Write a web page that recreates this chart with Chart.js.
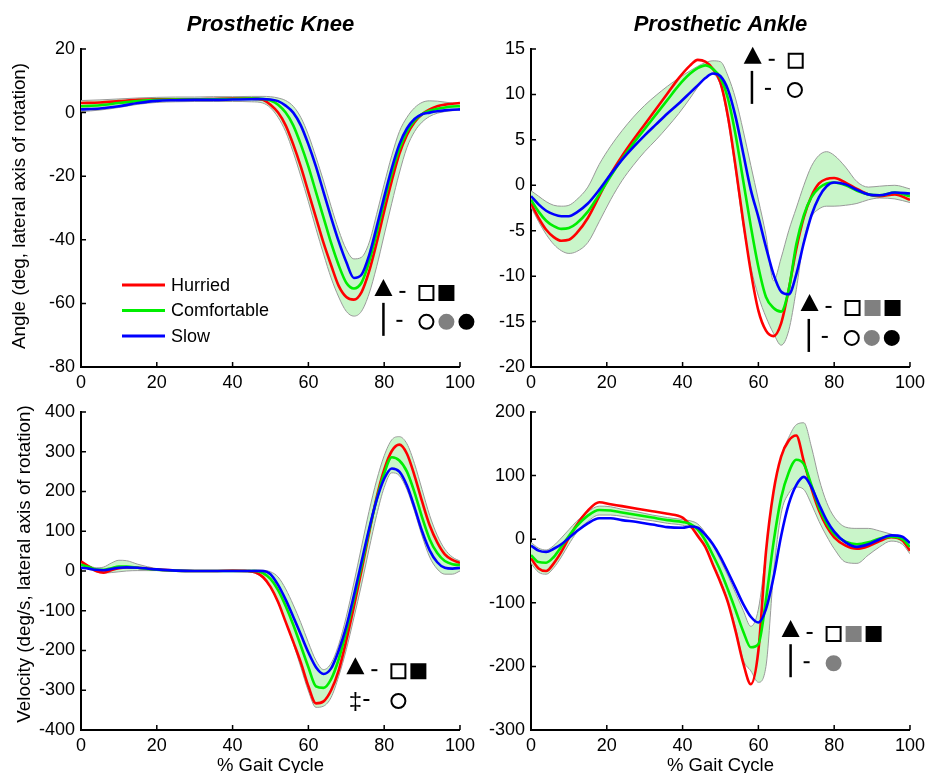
<!DOCTYPE html>
<html>
<head>
<meta charset="utf-8">
<script src="https://cdn.jsdelivr.net/npm/chart.js@4.4.1/dist/chart.umd.min.js"></script>
<style>
  html, body { margin: 0; padding: 0; background: #fff; width: 930px; height: 773px; overflow: hidden; }
  canvas { position: absolute; }
</style>
</head>
<body>
<canvas id="kneeAngle" width="480" height="400" style="left:0;top:0"></canvas>
<canvas id="ankleAngle" width="480" height="400" style="left:450px;top:0"></canvas>
<canvas id="kneeVel" width="480" height="400" style="left:0;top:380px"></canvas>
<canvas id="ankleVel" width="480" height="400" style="left:450px;top:380px"></canvas>
<script>
// ---- data ----
const kneeAngleX = [0,5,10,15,20,25,30,35,40,45,48,50,52,54,56,58,60,62,64,66,68,70,72,74,76,78,80,82,84,86,88,90,92,94,96,98,100];
const kneeAngleHurried = [3,3.2,3.6,4,4.2,4.2,4.2,4.3,4.4,4.4,4,2.5,0,-4,-10,-17,-25,-33,-41,-48,-54.5,-58,-58.8,-56.5,-50,-41,-31,-21.5,-13,-7,-3,-0.5,1,2,2.5,2.8,3];
const kneeAngleComfortable = [2,2.3,3,3.6,4,4.1,4.1,4.2,4.3,4.4,4.3,3.8,2.5,0,-4,-10,-17,-25,-33,-41,-48,-53.5,-55.3,-53.5,-47,-38,-28,-19,-11.5,-6,-2.5,-0.5,0.6,1.2,1.6,1.9,2];
const kneeAngleSlow = [1,1.3,2,3,3.7,3.9,4,4,4.1,4.2,4.3,4.1,3.6,2.2,0,-4,-10,-17,-25,-33,-40.5,-47,-52,-51,-45,-36,-26.5,-17.5,-10,-5,-2,-0.5,0,0.4,0.7,0.9,1];
const kneeAngleBandHi = [3.8,4,4.3,4.6,4.8,4.9,4.9,5,5,5.1,5.1,5,4.6,3.8,2,-1.5,-7,-14,-21.5,-29.5,-37,-43,-46,-45.5,-41,-32,-22.5,-13.5,-6,-1.5,1.5,3.2,3.7,3.6,3.3,3,2.8];
const kneeAngleBandLo = [0.3,0.8,1.6,2.6,3.2,3.4,3.5,3.5,3.5,3.4,3,1.5,-1.5,-6,-12.5,-20,-28,-36.5,-44.5,-52,-58,-62.5,-64,-62.5,-57,-48.5,-38.5,-28.5,-19,-11,-6,-3,-1.2,-0.2,0.3,0.6,0.8];

const ankleAngleX = [0,2,4,6,8,10,12,15,18,21,24,27,30,33,36,39,42,44,46,48,50,52,54,56,58,60,62,64,66,68,70,72,74,76,78,80,83,86,89,92,96,100];
const ankleAngleHurried = [-2,-3.6,-4.9,-5.7,-6.1,-6,-5.3,-3.6,-1.2,1.2,3.2,5,6.7,8.4,10.1,11.8,13.2,13.8,13.6,12.8,11.3,7.5,2,-4,-9.5,-13.8,-16,-16.6,-15.2,-11.5,-7,-3.5,-1.2,0.2,0.7,0.8,0.3,-0.4,-1,-1.2,-1,-1.6];
const ankleAngleComfortable = [-1.6,-2.9,-3.9,-4.5,-4.8,-4.7,-4.2,-2.9,-1,1,2.9,4.6,6.2,7.8,9.4,11,12.3,12.9,13.2,12.8,11.8,9.5,5.5,0.5,-4.5,-9,-12.3,-13.5,-13.9,-11.5,-6.5,-3.3,-1.3,-0.3,0.2,0.3,0,-0.6,-1,-1.1,-0.8,-1.2];
const ankleAngleSlow = [-1.2,-2.1,-2.8,-3.2,-3.4,-3.4,-3,-2,-0.5,1.2,2.8,4.2,5.5,6.7,7.9,9,10.2,11,11.8,12.3,12,10.5,7.5,3.5,-0.5,-3.5,-6.8,-9.8,-11.7,-12,-9.8,-6.3,-3.3,-1.3,-0.1,0.3,0.1,-0.5,-1,-1.1,-0.8,-0.9];
const ankleAngleBandHi = [-0.6,-1.2,-1.8,-2.2,-2.3,-2.2,-1.6,-0.2,2.3,4.3,6,7.5,8.8,9.9,10.9,11.8,12.6,13.1,13.5,13.7,13.6,12,9.5,6,2.2,-1.6,-5.5,-10.5,-8,-5,-2.5,0,2.1,3.3,3.7,3.3,2,0.4,-0.2,-0.1,0,-0.4];
const ankleAngleBandLo = [-2.4,-4,-5.4,-6.5,-7.2,-7.5,-7.3,-6.3,-4,-1.6,0.5,2.2,3.7,5,6.4,7.9,9.6,10.8,11.8,12.2,11,7,1.5,-4.5,-9,-12.2,-14.5,-16.3,-17.6,-16,-11.5,-6,-3.5,-2.6,-2.3,-2.3,-2.2,-2,-1.6,-1.4,-1.5,-1.9];

const kneeVelX = [0,2,4,6,8,10,12,15,20,25,30,35,40,44,46,48,50,52,54,56,58,60,62,64,66,68,70,72,74,76,78,80,82,84,86,88,90,92,94,96,98,100];
const kneeVelHurried = [24,12,0,-4,2,7,9,8,4,1,0,0,1,0,-3,-15,-40,-78,-128,-178,-230,-290,-333,-328,-300,-250,-175,-90,0,95,185,255,302,318,295,240,175,115,72,42,28,20];
const kneeVelComfortable = [16,10,4,3,7,11,11,8,3,1,0,0,0,0,0,-5,-20,-48,-88,-135,-188,-242,-290,-294,-272,-222,-152,-72,12,100,180,245,286,278,250,198,135,80,45,25,17,15];
const kneeVelSlow = [8,6,3,2,5,8,9,8,4,1,0,0,0,0,0,0,-8,-35,-72,-115,-160,-205,-242,-259,-245,-200,-140,-62,22,105,178,232,258,250,215,160,100,52,22,8,6,8];
const kneeVelBandHi = [20,14,8,10,20,27,26,17,6,2,1,1,1,2,3,2,-2,-15,-45,-85,-130,-180,-225,-248,-232,-185,-115,-30,60,150,228,290,330,338,320,270,205,140,90,55,35,25];
const kneeVelBandLo = [10,5,-2,-5,-4,-2,0,1,1,0,-1,-1,-1,-2,-6,-18,-42,-80,-128,-182,-242,-302,-343,-340,-318,-265,-198,-118,-35,55,140,210,247,240,205,150,88,35,5,-8,-8,0];

const ankleVelX = [0,2,4,6,8,10,12,15,18,21,24,28,32,36,40,42,44,46,48,50,52,54,56,58,60,62,64,66,68,70,72,74,76,78,80,83,86,89,92,95,98,100];
const ankleVelHurried = [-30,-46,-50,-38,-20,2,22,45,58,55,52,48,44,40,34,22,5,-12,-40,-68,-100,-145,-195,-228,-175,-20,75,130,155,163,122,80,45,20,3,-10,-15,-11,-3,3,-2,-18];
const ankleVelComfortable = [-25,-36,-37,-28,-12,5,20,37,46,45,42,38,34,30,27,24,15,-2,-25,-50,-80,-112,-145,-170,-165,-95,-5,65,105,125,118,85,50,25,8,-4,-8,-5,1,4,0,-12];
const ankleVelSlow = [-10,-18,-20,-15,-8,2,12,25,33,33,30,27,23,19,18,20,18,7,-8,-28,-52,-77,-102,-122,-131,-110,-60,5,55,85,98,82,55,30,12,-5,-12,-8,0,6,4,-6];
const ankleVelBandHi = [-5,-14,-17,-10,2,15,28,43,52,51,47,43,38,34,31,29,24,10,-10,-33,-58,-85,-112,-137,-110,-20,75,130,160,180,183,145,95,58,35,19,17,17,13,8,3,-4];
const ankleVelBandLo = [-38,-52,-55,-45,-28,-8,10,28,38,38,36,32,29,25,22,18,8,-12,-38,-65,-98,-140,-190,-207,-225,-200,-55,40,72,82,78,55,28,5,-15,-36,-38,-25,-12,-3,-8,-23];

const gaitTicks = [0, 20, 40, 60, 80, 100];

// ---- styles ----
const FONT = "'Liberation Sans', Arial, Helvetica, sans-serif";
const RED = '#ff0000', GREEN = '#00ee00', BLUE = '#0000ff';
const BAND_FILL = '#c9f5c9', BAND_EDGE = '#999999', GREY = '#808080';

Chart.defaults.font.family = FONT;
Chart.defaults.color = '#000';

function pts(xs, ys) {
    return xs.map((x, i) => ({ x: x, y: ys[i] }));
}

// MATLAB-style ticks pointing into the plot
const inwardTicks = {
    id: 'inwardTicks',
    afterDraw(chart) {
        const { ctx, chartArea } = chart;
        const sx = chart.scales.x, sy = chart.scales.y;
        ctx.save();
        ctx.strokeStyle = '#000';
        ctx.lineWidth = 1.5;
        ctx.beginPath();
        sx.ticks.forEach(t => {
            const px = sx.getPixelForValue(t.value);
            ctx.moveTo(px, chartArea.bottom);
            ctx.lineTo(px, chartArea.bottom - 5);
        });
        sy.ticks.forEach(t => {
            const py = sy.getPixelForValue(t.value);
            ctx.moveTo(chartArea.left, py);
            ctx.lineTo(chartArea.left + 5, py);
        });
        ctx.stroke();
        ctx.restore();
    }
};

// rotated y-axis caption, placed a fixed distance left of the plot
const sideTitle = {
    id: 'sideTitle',
    afterDraw(chart, args, opts) {
        if (!opts.text) return;
        const { ctx, chartArea } = chart;
        ctx.save();
        ctx.translate(chartArea.left - opts.dx, (chartArea.top + chartArea.bottom) / 2 + opts.dy);
        ctx.rotate(-Math.PI / 2);
        ctx.font = '18.8px ' + FONT;
        ctx.fillStyle = '#000';
        ctx.textAlign = 'center';
        ctx.textBaseline = 'middle';
        ctx.fillText(opts.text, 0, 0);
        ctx.restore();
    }
};

// line legend for the named series
const lineKey = {
    id: 'lineKey',
    afterDraw(chart, args, opts) {
        if (!opts.show) return;
        const { ctx, chartArea } = chart;
        const items = chart.data.datasets.filter(d => d.label);
        ctx.save();
        ctx.font = '18px ' + FONT;
        ctx.textBaseline = 'middle';
        items.forEach((d, i) => {
            const y = chartArea.top + 236 + i * 25.5;
            ctx.strokeStyle = d.borderColor;
            ctx.lineWidth = 3;
            ctx.beginPath();
            ctx.moveTo(chartArea.left + 41, y);
            ctx.lineTo(chartArea.left + 84, y);
            ctx.stroke();
            ctx.fillStyle = '#000';
            ctx.fillText(d.label, chartArea.left + 90, y + 1);
        });
        ctx.restore();
    }
};

// significance symbols (triangle / bar / double dagger rows)
const symbols = {
    id: 'symbols',
    afterDraw(chart, args, opts) {
        const { ctx } = chart;
        const sx = chart.scales.x, sy = chart.scales.y;
        (opts.rows || []).forEach(row => {
            const px = sx.getPixelForValue(row.x);
            const py = sy.getPixelForValue(row.y);
            ctx.save();
            ctx.fillStyle = '#000';
            ctx.strokeStyle = '#000';
            let dashX;
            if (row.lead === 'tri') {
                ctx.beginPath();
                ctx.moveTo(px - 9, py + 3);
                ctx.lineTo(px + 9, py + 3);
                ctx.lineTo(px, py - 14);
                ctx.closePath();
                ctx.fill();
                dashX = px + 19;
            } else if (row.lead === 'bar') {
                ctx.lineWidth = 2.5;
                ctx.beginPath();
                ctx.moveTo(px, py - 19);
                ctx.lineTo(px, py + 14);
                ctx.stroke();
                dashX = px + 16;
            } else {
                ctx.font = '24px ' + FONT;
                ctx.textAlign = 'center';
                ctx.textBaseline = 'middle';
                ctx.fillText('\u2021', px, py + 1);
                dashX = px + 11;
            }
            ctx.lineWidth = 2;
            ctx.beginPath();
            ctx.moveTo(dashX - 3, py - 1);
            ctx.lineTo(dashX + 3, py - 1);
            ctx.stroke();
            row.items.forEach((it, i) => {
                const cx = px + 43 + i * 20;
                const shape = it[1];
                const fill = it[0] === 'o' ? '#fff' : (it[0] === 'g' ? GREY : '#000');
                const edge = it[0] === 'g' ? GREY : '#000';
                ctx.fillStyle = fill;
                ctx.strokeStyle = edge;
                ctx.lineWidth = 2;
                ctx.beginPath();
                if (shape === 's') ctx.rect(cx - 7, py - 7, 14, 14);
                else ctx.arc(cx, py, 7, 0, Math.PI * 2);
                ctx.fill();
                ctx.stroke();
            });
            ctx.restore();
        });
    }
};

function makePanel(id, cfg) {
    const line = (label, ys, color, order) => ({
        label: label, data: pts(cfg.x, ys), borderColor: color, borderWidth: 2.6,
        pointRadius: 0, cubicInterpolationMode: 'monotone', fill: false, order: order
    });
    const tickFont = { size: 18, family: FONT };
    new Chart(document.getElementById(id), {
        type: 'line',
        data: {
            datasets: [
                { label: '', data: pts(cfg.x, cfg.hi), borderColor: BAND_EDGE, borderWidth: 1,
                  backgroundColor: BAND_FILL, fill: '+1', pointRadius: 0,
                  cubicInterpolationMode: 'monotone', order: 10 },
                { label: '', data: pts(cfg.x, cfg.lo), borderColor: BAND_EDGE, borderWidth: 1,
                  fill: false, pointRadius: 0, cubicInterpolationMode: 'monotone', order: 11 },
                line('Hurried', cfg.hurried, RED, 3),
                line('Comfortable', cfg.comfortable, GREEN, 2),
                line('Slow', cfg.slow, BLUE, 1)
            ]
        },
        options: {
            responsive: false,
            animation: false,
            devicePixelRatio: 1,
            layout: { padding: { top: cfg.padTop, right: 18, left: 0, bottom: 0 } },
            scales: {
                x: {
                    type: 'linear', min: 0, max: 100,
                    afterBuildTicks: s => { s.ticks = gaitTicks.map(v => ({ value: v })); },
                    ticks: { font: tickFont, padding: 5, maxRotation: 0, autoSkip: false },
                    grid: { display: false, drawTicks: false },
                    border: { display: true, color: '#000', width: 2 },
                    title: { display: !!cfg.xTitle, text: cfg.xTitle, font: { size: 18.5, family: FONT },
                             padding: { top: 0, bottom: 3 } },
                    afterFit: s => { s.height = cfg.xh; }
                },
                y: {
                    min: cfg.yMin, max: cfg.yMax,
                    ticks: { stepSize: cfg.yStep, font: tickFont, padding: 6 },
                    grid: { display: false, drawTicks: false },
                    border: { display: true, color: '#000', width: 2 },
                    afterFit: s => { s.width = 81; }
                }
            },
            plugins: {
                legend: { display: false },
                tooltip: { enabled: false },
                filler: { drawTime: 'beforeDatasetsDraw' },
                title: {
                    display: !!cfg.title, text: cfg.title, fullSize: false,
                    font: { size: 22, weight: 'bold', style: 'italic', family: FONT },
                    padding: { top: 11.3, bottom: 11.3 }
                },
                sideTitle: { text: cfg.yTitle, dx: cfg.yTitleDx, dy: cfg.yTitleDy },
                lineKey: { show: !!cfg.key },
                symbols: { rows: cfg.rows }
            }
        },
        plugins: [inwardTicks, sideTitle, lineKey, symbols]
    });
}

makePanel('kneeAngle', {
    x: kneeAngleX, hurried: kneeAngleHurried, comfortable: kneeAngleComfortable, slow: kneeAngleSlow,
    hi: kneeAngleBandHi, lo: kneeAngleBandLo,
    yMin: -80, yMax: 20, yStep: 20, xh: 33, padTop: 0,
    title: 'Prosthetic Knee', yTitle: 'Angle (deg, lateral axis of rotation)', yTitleDx: 61, yTitleDy: -2, key: true,
    rows: [
        { x: 79.8, y: -56.7, lead: 'tri', items: ['os', 'fs'] },
        { x: 79.8, y: -65.8, lead: 'bar', items: ['oc', 'gc', 'fc'] }
    ]
});
makePanel('ankleAngle', {
    x: ankleAngleX, hurried: ankleAngleHurried, comfortable: ankleAngleComfortable, slow: ankleAngleSlow,
    hi: ankleAngleBandHi, lo: ankleAngleBandLo,
    yMin: -20, yMax: 15, yStep: 5, xh: 33, padTop: 0,
    title: 'Prosthetic Ankle',
    rows: [
        { x: 58.5, y: 13.7, lead: 'tri', items: ['os'] },
        { x: 58.3, y: 10.5, lead: 'bar', items: ['oc'] },
        { x: 73.5, y: -13.5, lead: 'tri', items: ['os', 'gs', 'fs'] },
        { x: 73.3, y: -16.8, lead: 'bar', items: ['oc', 'gc', 'fc'] }
    ]
});
makePanel('kneeVel', {
    x: kneeVelX, hurried: kneeVelHurried, comfortable: kneeVelComfortable, slow: kneeVelSlow,
    hi: kneeVelBandHi, lo: kneeVelBandLo,
    yMin: -400, yMax: 400, yStep: 100, xh: 50, padTop: 32,
    xTitle: '% Gait Cycle', yTitle: 'Velocity (deg/s, lateral axis of rotation)', yTitleDx: 56, yTitleDy: -7,
    rows: [
        { x: 72.4, y: -252, lead: 'tri', items: ['os', 'fs'] },
        { x: 72.4, y: -327, lead: 'dagger', items: ['oc'] }
    ]
});
makePanel('ankleVel', {
    x: ankleVelX, hurried: ankleVelHurried, comfortable: ankleVelComfortable, slow: ankleVelSlow,
    hi: ankleVelBandHi, lo: ankleVelBandLo,
    yMin: -300, yMax: 200, yStep: 100, xh: 50, padTop: 32,
    xTitle: '% Gait Cycle',
    rows: [
        { x: 68.5, y: -149, lead: 'tri', items: ['os', 'gs', 'fs'] },
        { x: 68.5, y: -195, lead: 'bar', items: ['gc'] }
    ]
});
</script>
</body>
</html>
